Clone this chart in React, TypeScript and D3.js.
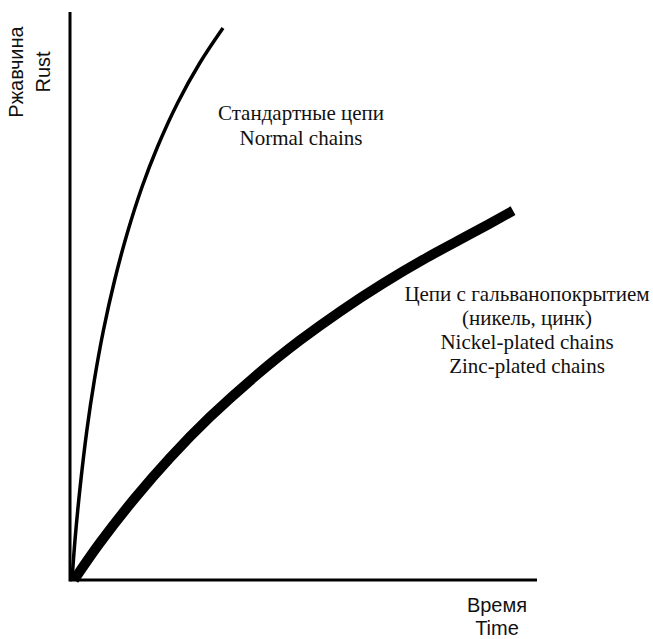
import React from "react";
import * as d3 from "d3";

// time (0-100) vs rust (0-100)
const normalTime = [0.43, 1.07, 2.1, 3.62, 5.22, 7.17, 9.57, 12.27, 15.42, 18.72, 23.04, 27.79, 32.76];
const normalRust = [0, 7.04, 15.85, 26.41, 35.21, 44.01, 52.82, 61.09, 69.19, 76.23, 83.98, 91.02, 97.18];

const platedTime = [0.86, 6.42, 13.92, 21.41, 29.98, 40.04, 49.25, 57.82, 67.02, 76.45, 86.3, 94.86];
const platedRust = [0, 6.55, 14.44, 21.51, 28.7, 36.14, 42.2, 47.27, 52.2, 56.78, 61.14, 65.02];

const normalLabel = ["Стандартные цепи", "Normal chains"];
const platedLabel = [
  "Цепи с гальванопокрытием",
  "(никель, цинк)",
  "Nickel-plated chains",
  "Zinc-plated chains",
];
const yLabel = ["Ржавчина", "Rust"];
const xLabel = ["Время", "Time"];

const width = 653,
  height = 639;

export default function App() {
  const x = d3.scaleLinear().domain([0, 100]).range([70, 537]);
  const y = d3.scaleLinear().domain([0, 100]).range([580, 12]);

  const line = d3
    .line<[number, number]>()
    .x(d => x(d[0]))
    .y(d => y(d[1]))
    .curve(d3.curveCatmullRom.alpha(0.5));

  const normal = normalTime.map((t, i) => [t, normalRust[i]] as [number, number]);
  const plated = platedTime.map((t, i) => [t, platedRust[i]] as [number, number]);

  const serif = "'Liberation Serif', 'Times New Roman', serif";
  const sans = "'Liberation Sans', Arial, sans-serif";

  return (
    <svg
      width={width}
      height={height}
      style={{ position: "absolute", left: 0, top: 0, background: "#fff" }}
    >
      <path d={line(plated) || ""} fill="none" stroke="#000" strokeWidth={10} />
      <path d={line(normal) || ""} fill="none" stroke="#000" strokeWidth={3.5} />

      {/* axes */}
      <line x1={x(0)} x2={x(0)} y1={y(100)} y2={y(0) + 1.5} stroke="#000" strokeWidth={3} />
      <line x1={x(0)} x2={x(100)} y1={y(0)} y2={y(0)} stroke="#000" strokeWidth={3} />

      <g fontFamily={serif} fontSize={21} textAnchor="middle" fill="#111">
        {normalLabel.map((s, i) => (
          <text key={s} x={301} y={120 + i * 25}>
            {s}
          </text>
        ))}
        {platedLabel.map((s, i) => (
          <text key={s} x={527} y={301 + i * 24}>
            {s}
          </text>
        ))}
      </g>

      <g fontFamily={sans} fontSize={20} textAnchor="middle" fill="#111">
        {yLabel.map((s, i) => (
          <text key={s} transform={`translate(${23 + i * 27},${72}) rotate(-90)`}>
            {s}
          </text>
        ))}
        {xLabel.map((s, i) => (
          <text key={s} x={497} y={612 + i * 23}>
            {s}
          </text>
        ))}
      </g>
    </svg>
  );
}
